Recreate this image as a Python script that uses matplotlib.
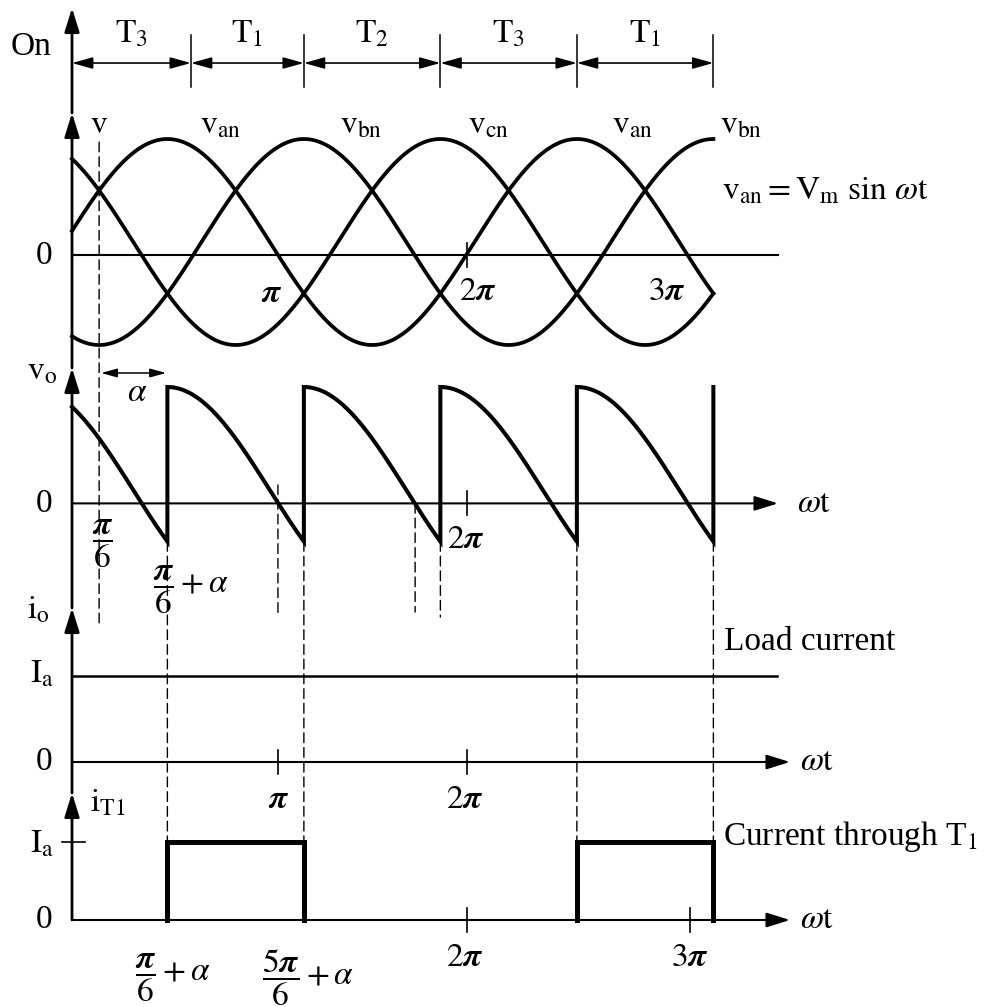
import numpy as np
import matplotlib
matplotlib.use('Agg')
import matplotlib.pyplot as plt
from matplotlib.patches import ConnectionPatch

plt.rcParams['font.family'] = ['Liberation Serif', 'DejaVu Serif']
plt.rcParams['mathtext.fontset'] = 'stix'
plt.rcParams['lines.scale_dashes'] = False

PI = np.pi

# ---------------- data ----------------
phase_shift = [0.0, -2 * PI / 3, 2 * PI / 3]          # v_an, v_bn, v_cn
Vm = 1.0
alpha = PI / 3                                        # firing delay (60 deg)
firing_angles = [PI / 6 + alpha + k * 2 * PI / 3 for k in range(5)]
firing_phase = [0, 1, 2, 0, 1]                        # phase switched in at each firing
start_phase = 2                                       # v_cn conducts at left edge
curve_labels = ['an', 'bn', 'cn', 'an', 'bn']
on_names = ['3', '1', '2', '3', '1']
on_bounds_pi = [0.034, 0.615, 7 / 6, 11 / 6, 5 / 2, 19 / 6]
Ia = 1.0
t1_on = [PI / 2, 5 * PI / 2]
t1_off = [7 * PI / 6, 19 * PI / 6]
tick_pi = {'pi': 1.04, '2pi': 1.963, '3pi': 3.053}    # drawn tick positions (x pi)
crossing_marks_pi = [1.04, 1.71]                      # dashed marks at v_o axis crossings
axis_level = -0.13                                    # drawn "0" axis below sine centre

# ---------------- layout ----------------
W, H = 985, 1007
fig = plt.figure(figsize=(W / 100, H / 100), dpi=100)


def px(xp):
    return (xp - 65) / 204.75 * PI


def band(top, bot):
    return [0, 1 - bot / H, 1, (bot - top) / H]


XL = (px(0), px(W))
theta0 = px(72)
theta_end = firing_angles[-1]
FS = 24
K = 'k'


def mk(top, bot, ylim):
    ax = fig.add_axes(band(top, bot))
    ax.set_xlim(*XL)
    ax.set_ylim(*ylim)
    ax.axis('off')
    return ax


axOn = mk(8, 113, (0, 1))
axP = mk(113, 368, ((242 - 368) / 103, (242 - 113) / 103))
axV = mk(368, 608, ((490 - 608) / 103, (490 - 368) / 103))
axI = mk(608, 793, ((762 - 793) / 86, (762 - 608) / 86))
axT = mk(793, 1007, ((920 - 1007) / 78, (920 - 793) / 78))

ARW = '-|>,head_length=0.9,head_width=0.28'


def arrow(ax, p0, p1, lw=2.0, style=ARW, ms=16):
    ax.annotate('', xy=p1, xytext=p0, annotation_clip=False,
                arrowprops=dict(arrowstyle=style, lw=lw, color=K,
                                shrinkA=0, shrinkB=0, mutation_scale=ms))


def tick(ax, x, y, d):
    ax.plot([x, x], [y - d, y + d], color=K, lw=1.2)


# vertical axes
for ax, y0 in [(axOn, 0), (axP, axP.get_ylim()[0]), (axV, axV.get_ylim()[0]),
               (axI, axI.get_ylim()[0]), (axT, 0)]:
    arrow(ax, (theta0, y0), (theta0, ax.get_ylim()[1]), lw=2.0)

# ---------------- "On" panel ----------------
axOn.text(px(52), 0.552, 'On', ha='right', va='baseline', fontsize=FS)
bounds = [b * PI for b in on_bounds_pi]
for b in bounds[1:]:
    axOn.plot([b, b], [0.248, 0.743], color=K, lw=1.1)
for i, name in enumerate(on_names):
    a, b = bounds[i], bounds[i + 1]
    arrow(axOn, (a, 0.476), (b, 0.476), lw=1.2,
          style='<|-|>,head_length=0.9,head_width=0.25', ms=14)
    axOn.text((a + b) / 2, 0.667, r'$\mathrm{T_{%s}}$' % name, ha='center',
              va='baseline', fontsize=FS)

# ---------------- phase voltages ----------------
th = np.linspace(theta0, theta_end, 800)
for s in phase_shift:
    axP.plot(th, Vm * np.sin(th + s), color=K, lw=2.7, solid_joinstyle='miter')
axP.plot([theta0, px(778)], [axis_level, axis_level], color=K, lw=1.5)
tick(axP, tick_pi['2pi'] * PI, axis_level, 0.117)
axP.text(px(52), axis_level, '0', ha='right', va='center', fontsize=FS)
axP.text(PI / 6, 1.058, r'$\mathrm{v}$', ha='center', va='baseline', fontsize=FS)
for xl, lab in zip([200, 340, 468, 612, 720], curve_labels):
    axP.text(px(xl), 1.058, r'$\mathrm{v_{%s}}$' % lab, ha='left',
             va='baseline', fontsize=FS)
axP.text(px(722), 0.41, r'$\mathrm{v_{an}} = \mathrm{V_m}\ \mathrm{sin}\ \omega\mathrm{t}$',
         ha='left', va='baseline', fontsize=FS)
axP.text(px(272), -0.5, r'$\boldsymbol{\pi}$', ha='center', va='center', fontsize=FS)
axP.text(px(478), -0.48, r'$2\boldsymbol{\pi}$', ha='center', va='center', fontsize=FS)
axP.text(px(667), -0.48, r'$3\boldsymbol{\pi}$', ha='center', va='center', fontsize=FS)

# ---------------- output voltage ----------------
vx, vy = [], []
seg_start = [theta0] + firing_angles[:-1]
seg_phase = [start_phase] + firing_phase[:-1]
for a, b, p in zip(seg_start, firing_angles, seg_phase):
    t = np.linspace(a, b, 200)
    vx.extend(t)
    vy.extend(Vm * np.sin(t + phase_shift[p]))
vx.append(theta_end)
vy.append(Vm * np.sin(theta_end + phase_shift[firing_phase[-1]]))
axV.plot(vx, vy, color=K, lw=2.9, solid_joinstyle='miter')
arrow(axV, (theta0, axis_level), (px(778), axis_level), lw=1.5)
tick(axV, tick_pi['2pi'] * PI, axis_level, 0.117)
axV.text(px(27), 1.068, r'$\mathrm{v_o}$', ha='left', va='baseline', fontsize=FS)
axV.text(px(52), axis_level, '0', ha='right', va='center', fontsize=FS)
axV.text(px(797), axis_level, r'$\omega\mathrm{t}$', ha='left', va='center', fontsize=FS)
arrow(axV, (PI / 6 + 0.03, 1.136), (PI / 6 + alpha - 0.02, 1.136), lw=1.1,
      style='<|-|>,head_length=0.8,head_width=0.22', ms=12)
axV.text(px(137), 0.94, r'$\alpha$', ha='center', va='center', fontsize=FS)
axV.text(px(103), -0.52, r'$\dfrac{\boldsymbol{\pi}}{6}$', ha='center', va='center', fontsize=FS)
axV.text(px(153), -0.97, r'$\dfrac{\boldsymbol{\pi}}{6}+\alpha$', ha='left', va='center', fontsize=FS)
axV.text(px(466), -0.485, r'$2\boldsymbol{\pi}$', ha='center', va='center', fontsize=FS)

# ---------------- load current ----------------
axI.plot([theta0, px(777)], [Ia, Ia], color=K, lw=1.8)
arrow(axI, (theta0, 0), (px(790), 0), lw=1.5)
tick(axI, tick_pi['pi'] * PI, 0, 0.14)
tick(axI, tick_pi['2pi'] * PI, 0, 0.14)
axI.text(px(27), 1.674, r'$\mathrm{i_o}$', ha='left', va='baseline', fontsize=FS)
axI.text(px(30), 0.92, r'$\mathrm{I_a}$', ha='left', va='baseline', fontsize=FS)
axI.text(px(52), 0, '0', ha='right', va='center', fontsize=FS)
axI.text(px(724), 1.395, 'Load current', ha='left', va='center', fontsize=FS)
axI.text(px(800), 0, r'$\omega\mathrm{t}$', ha='left', va='center', fontsize=FS)
axI.text(px(279), -0.44, r'$\boldsymbol{\pi}$', ha='center', va='center', fontsize=FS)
axI.text(px(465), -0.44, r'$2\boldsymbol{\pi}$', ha='center', va='center', fontsize=FS)

# ---------------- thyristor T1 current ----------------
arrow(axT, (theta0, 0), (px(790), 0), lw=1.5)
for a, b in zip(t1_on, t1_off):
    axT.plot([a, a, b, b], [0, Ia, Ia, 0], color=K, lw=3.6,
             solid_joinstyle='miter', solid_capstyle='projecting')
axT.plot([px(62), px(85)], [Ia, Ia], color=K, lw=1.2)
tick(axT, tick_pi['2pi'] * PI, 0, 0.154)
tick(axT, tick_pi['3pi'] * PI, 0, 0.154)
axT.text(px(90), 1.385, r'$\mathrm{i_{T1}}$', ha='left', va='baseline', fontsize=FS)
axT.text(px(30), 0.87, r'$\mathrm{I_a}$', ha='left', va='baseline', fontsize=FS)
axT.text(px(52), 0, '0', ha='right', va='center', fontsize=FS)
axT.text(px(800), 0, r'$\omega\mathrm{t}$', ha='left', va='center', fontsize=FS)
axT.text(px(723), 1.07, r'Current through T$_\mathrm{1}$', ha='left', va='center', fontsize=FS)
axT.text(px(465), -0.487, r'$2\boldsymbol{\pi}$', ha='center', va='center', fontsize=FS)
axT.text(px(690), -0.487, r'$3\boldsymbol{\pi}$', ha='center', va='center', fontsize=FS)
axT.text(px(135), -0.745, r'$\dfrac{\boldsymbol{\pi}}{6}+\alpha$', ha='left', va='center', fontsize=FS)
axT.text(px(262), -0.745, r'$\dfrac{5\boldsymbol{\pi}}{6}+\alpha$', ha='left', va='center', fontsize=FS)

# ---------------- dashed guide lines ----------------
DASH = (0, (7, 3.6))


def vdash(x, axA, yA, axB, yB):
    cp = ConnectionPatch(xyA=(x, yA), coordsA=axA.transData,
                         xyB=(x, yB), coordsB=axB.transData,
                         color=K, lw=1.0, linestyle=DASH)
    fig.add_artist(cp)


vdash(PI / 6, axP, 0.97, axI, 1.616)
for k, f in enumerate(firing_angles):
    yv = Vm * np.sin(f + phase_shift[seg_phase[k]])
    if k == 2:
        vdash(f, axV, yv, axI, 1.686)
    else:
        vdash(f, axV, yv, axT, Ia)
vdash(crossing_marks_pi[0] * PI, axV, 0.05, axI, 1.733)
vdash(crossing_marks_pi[1] * PI, axV, axis_level, axI, 1.744)

fig.savefig('out.png', dpi=100)
